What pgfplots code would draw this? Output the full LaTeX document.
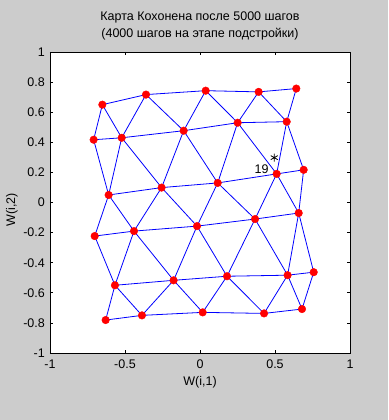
\documentclass[border=0pt]{standalone}
\usepackage{pgfplots}
\pgfplotsset{compat=1.18}
\usepackage{fontspec}
\setmainfont{Liberation Sans}
\definecolor{matgray}{RGB}{204,204,204}
\begin{document}
\fontsize{12.5}{17}\selectfont
\begin{tikzpicture}
\fill[matgray] (0,0) rectangle (388pt,420pt);
\begin{axis}[
  at={(50pt,67pt)}, anchor=south west,
  width=300pt, height=301pt, scale only axis,
  xmin=-1, xmax=1, ymin=-1, ymax=1,
  axis background/.style={fill=white},
  axis line style={line width=0.8pt, black},
  tick align=inside, major tick length=3pt,
  tick style={line width=0.7pt, black},
  xtick={-1,-0.5,0,0.5,1},
  xticklabels={-1,-0.5,0,0.5,1},
  ytick={-1,-0.8,-0.6,-0.4,-0.2,0,0.2,0.4,0.6,0.8,1},
  yticklabels={-1,-0.8,-0.6,-0.4,-0.2,0,0.2,0.4,0.6,0.8,1},
  xticklabel style={anchor=center, inner sep=0pt, yshift=-11pt},
  yticklabel style={anchor=east, inner sep=0pt, xshift=-5pt},
  title={Карта Кохонена после 5000 шагов\\(4000 шагов на этапе подстройки)},
  title style={align=center, at={(axis description cs:0.5,1)}, anchor=south, inner sep=0pt, yshift=6pt, font=\fontsize{12.5}{17}\selectfont},
  xlabel={W(i,1)},
  xlabel style={at={(axis description cs:0.5,0)}, anchor=center, inner sep=0pt, yshift=-29pt},
  ylabel={W(i,2)},
  ylabel style={at={(axis description cs:-0.127,0.475)}, anchor=center, inner sep=0pt},
  clip=false,
]
% horizontal rows
\addplot[blue, line width=0.8pt] coordinates {(-0.651,0.650) (-0.360,0.717) (0.038,0.743) (0.391,0.735) (0.642,0.757)};
\addplot[blue, line width=0.8pt] coordinates {(-0.709,0.417) (-0.522,0.430) (-0.109,0.477) (0.251,0.530) (0.578,0.537)};
\addplot[blue, line width=0.8pt] coordinates {(-0.609,0.050) (-0.256,0.099) (0.118,0.130) (0.511,0.190) (0.691,0.217)};
\addplot[blue, line width=0.8pt] coordinates {(-0.702,-0.223) (-0.440,-0.190) (-0.020,-0.157) (0.367,-0.110) (0.658,-0.070)};
\addplot[blue, line width=0.8pt] coordinates {(-0.567,-0.550) (-0.176,-0.517) (0.180,-0.490) (0.584,-0.483) (0.758,-0.463)};
\addplot[blue, line width=0.8pt] coordinates {(-0.629,-0.781) (-0.387,-0.750) (0.018,-0.730) (0.427,-0.737) (0.680,-0.708)};
% zigzags
\addplot[blue, line width=0.8pt] coordinates {(-0.709,0.417) (-0.651,0.650) (-0.522,0.430) (-0.360,0.717) (-0.109,0.477) (0.038,0.743) (0.251,0.530) (0.391,0.735) (0.578,0.537) (0.642,0.757)};
\addplot[blue, line width=0.8pt] coordinates {(-0.709,0.417) (-0.609,0.050) (-0.522,0.430) (-0.256,0.099) (-0.109,0.477) (0.118,0.130) (0.251,0.530) (0.511,0.190) (0.578,0.537) (0.691,0.217)};
\addplot[blue, line width=0.8pt] coordinates {(-0.702,-0.223) (-0.609,0.050) (-0.440,-0.190) (-0.256,0.099) (-0.020,-0.157) (0.118,0.130) (0.367,-0.110) (0.511,0.190) (0.658,-0.070) (0.691,0.217)};
\addplot[blue, line width=0.8pt] coordinates {(-0.702,-0.223) (-0.567,-0.550) (-0.440,-0.190) (-0.176,-0.517) (-0.020,-0.157) (0.180,-0.490) (0.367,-0.110) (0.584,-0.483) (0.658,-0.070) (0.758,-0.463)};
\addplot[blue, line width=0.8pt] coordinates {(-0.629,-0.781) (-0.567,-0.550) (-0.387,-0.750) (-0.176,-0.517) (0.018,-0.730) (0.180,-0.490) (0.427,-0.737) (0.584,-0.483) (0.680,-0.708) (0.758,-0.463)};
% nodes
\addplot[only marks, mark=*, mark size=3.8pt, mark options={fill=red, draw=red}] coordinates {
(-0.651,0.650) (-0.360,0.717) (0.038,0.743) (0.391,0.735) (0.642,0.757)
(-0.709,0.417) (-0.522,0.430) (-0.109,0.477) (0.251,0.530) (0.578,0.537)
(-0.609,0.050) (-0.256,0.099) (0.118,0.130) (0.511,0.190) (0.691,0.217)
(-0.702,-0.223) (-0.440,-0.190) (-0.020,-0.157) (0.367,-0.110) (0.658,-0.070)
(-0.567,-0.550) (-0.176,-0.517) (0.180,-0.490) (0.584,-0.483) (0.758,-0.463)
(-0.629,-0.781) (-0.387,-0.750) (0.018,-0.730) (0.427,-0.737) (0.680,-0.708)};
% input vector
\addplot[only marks, mark=asterisk, mark size=4pt, mark options={black, line width=0.8pt}] coordinates {(0.495,0.298)};
\node[anchor=east, inner sep=0pt] at (axis cs:0.458,0.219) {19};
\end{axis}
\end{tikzpicture}
\end{document}
